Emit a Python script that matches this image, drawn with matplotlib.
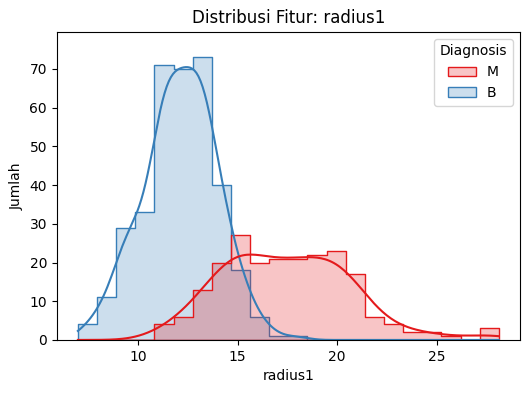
import numpy as np
import pandas as pd
import seaborn as sns
from matplotlib import pyplot as plt

# histogram: 22 common bins over the radius1 range
x_min, x_max = 6.981, 28.11
n_bins = 22
counts_m = [0, 0, 0, 0, 4, 6, 13, 20, 27, 20, 21,
            21, 22, 23, 17, 6, 4, 2, 2, 1, 0, 3]
counts_b = [4, 11, 29, 33, 71, 70, 73, 40, 18, 6, 1,
            1, 0, 0, 0, 0, 0, 0, 0, 0, 0, 0]
groups = ['M', 'B']

edges = np.linspace(x_min, x_max, n_bins + 1)
width = edges[1] - edges[0]


def spread(counts):
    # place each bin's observations evenly across the bin
    pts = [edges[i] + (np.arange(c) + 0.5) / c * width
           for i, c in enumerate(counts) if c > 0]
    return np.concatenate(pts)


vals = np.concatenate([spread(counts_m), spread(counts_b)])
labels = ['M'] * sum(counts_m) + ['B'] * sum(counts_b)
df = pd.DataFrame({'radius1': vals, 'Diagnosis': labels})

fig = plt.figure(figsize=(5.31, 3.93), dpi=100)
ax = fig.add_axes([0.107, 0.135, 0.872, 0.784])

sns.histplot(data=df, x='radius1', hue='Diagnosis', hue_order=groups,
             palette='Set1', bins=edges, element='step', kde=True,
             kde_kws={'cut': 3, 'clip': (x_min, x_max)}, ax=ax)

ax.set_ylim(0, 79.6)
ax.set_title('Distribusi Fitur: radius1')
ax.set_xlabel('radius1')
ax.set_ylabel('Jumlah')

fig.savefig('out.png', dpi=100)
